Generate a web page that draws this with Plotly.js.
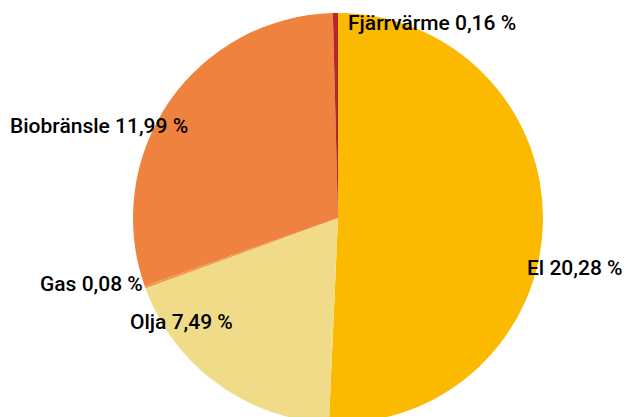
<!DOCTYPE html>
<html><head><meta charset="utf-8">
<script src="https://cdn.plot.ly/plotly-3.0.1.min.js"></script>
<style>html,body{margin:0;padding:0;overflow:hidden;background:#fff}#c{width:627px;height:436px}</style>
</head><body><div id="c"></div>
<script>
const categories = ["El", "Olja", "Gas", "Biobränsle", "Fjärrvärme"];
const values = [20.28, 7.49, 0.08, 11.99, 0.16];
const colors = ["#FBBA00", "#F0DB88", "#F2954F", "#EE823E", "#B5262A"];
// label anchor positions (pixels from top-left), layout only
const labelPos = [[525, 268, "left"], [128, 322, "left"], [38, 284, "left"], [8, 126, "left"], [346, 23, "left"]];

const W = 627, H = 436;
function fmt(v){ return v.toFixed(2).replace(".", ","); }
const annotations = categories.map((c, i) => ({
  text: c + " " + fmt(values[i]) + " %",
  xref: "paper", yref: "paper",
  x: labelPos[i][0] / W, y: 1 - labelPos[i][1] / H,
  xanchor: labelPos[i][2], yanchor: "middle",
  showarrow: false,
  font: {family: "Roboto, Arial, sans-serif", size: 21, color: "#000", weight: 500}
}));

Plotly.newPlot("c", [{
  type: "pie",
  labels: categories,
  values: values,
  sort: false,
  direction: "clockwise",
  rotation: 0,
  textinfo: "none",
  hoverinfo: "label+value",
  marker: {colors: colors, line: {color: "#fff", width: 0}},
  domain: {x: [133 / W, 543 / W], y: [(H - 423) / H, (H - 13) / H]}
}], {
  width: W, height: H,
  margin: {l: 0, r: 0, t: 0, b: 0},
  showlegend: false,
  paper_bgcolor: "#fff",
  annotations: annotations
}, {displayModeBar: false, staticPlot: true});
</script></body></html>
